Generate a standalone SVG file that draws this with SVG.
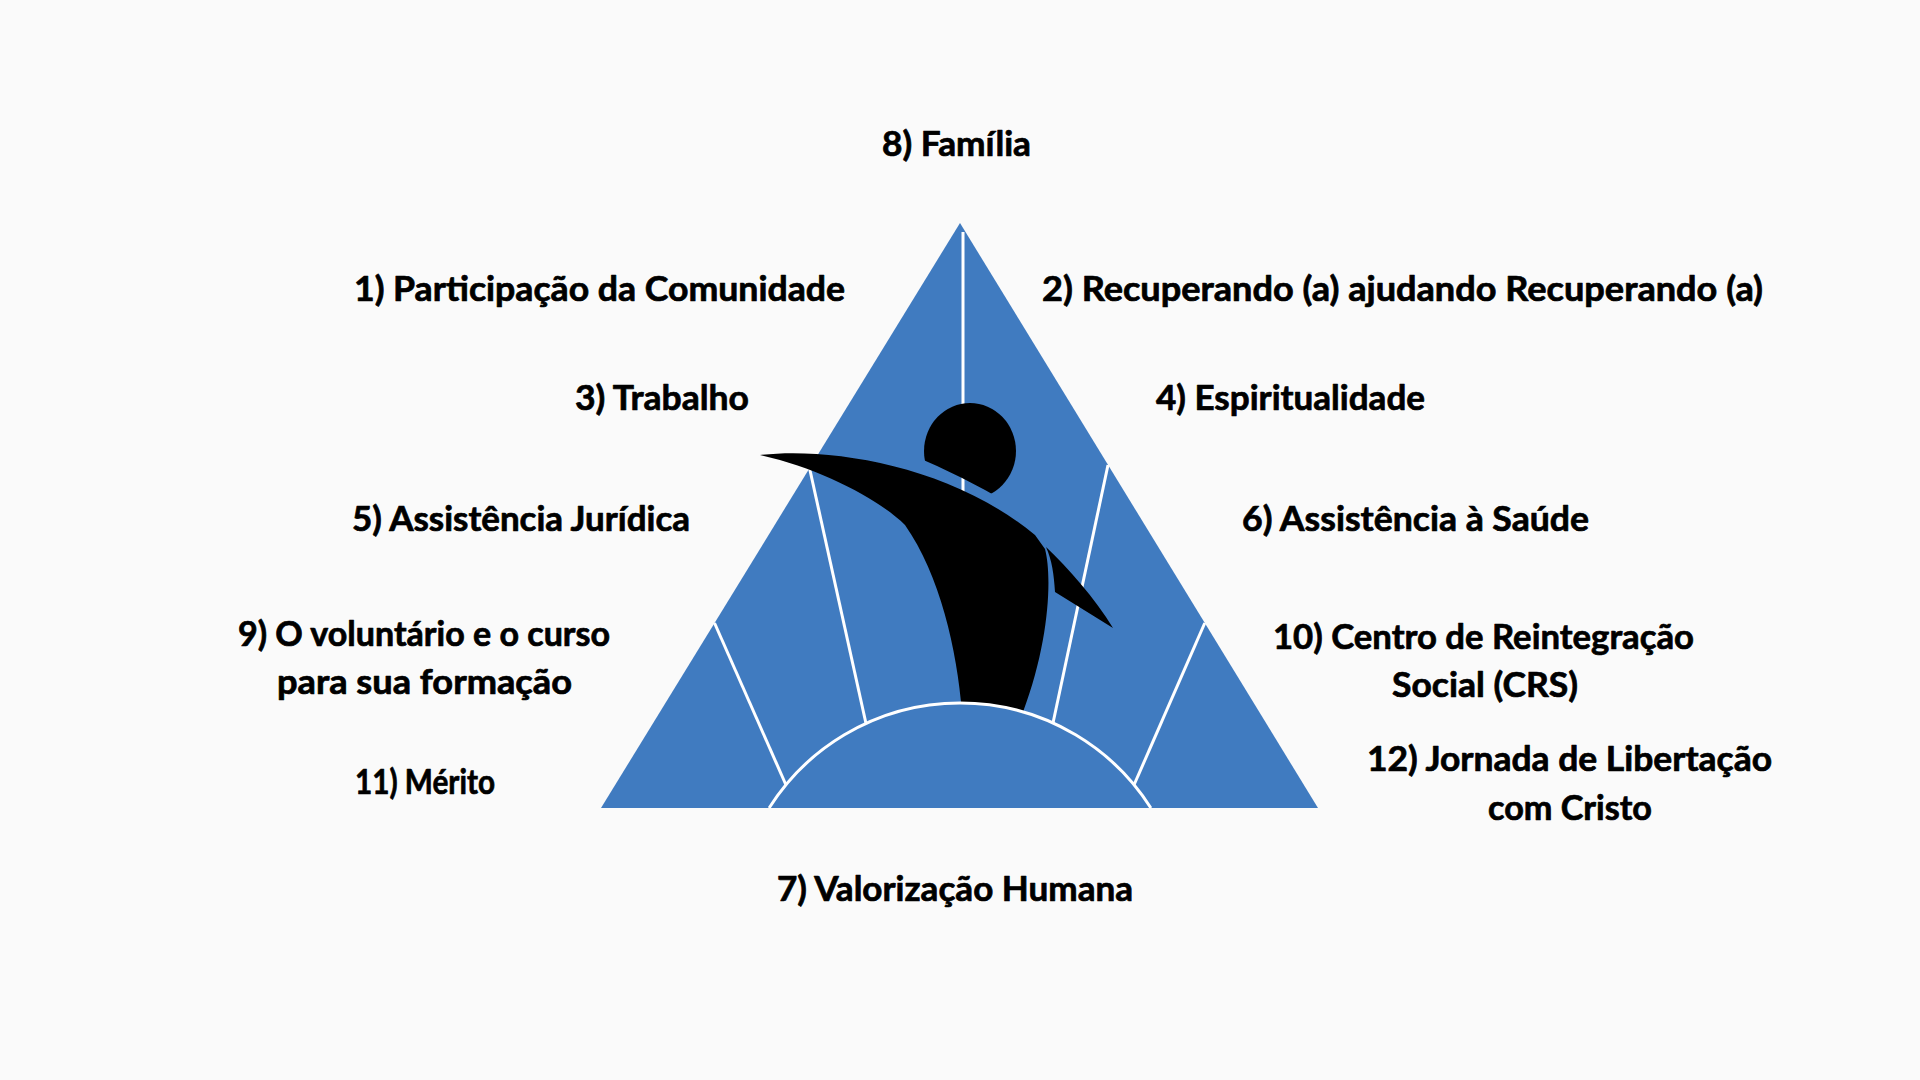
<svg xmlns="http://www.w3.org/2000/svg" width="1920" height="1080" viewBox="0 0 1920 1080">
<defs>
<style>
.lbl{font-family:"Lato","Liberation Sans",sans-serif;font-weight:700;font-size:34px;fill:#000;stroke:#000;stroke-width:0.7px;stroke-linejoin:round;}
.div{stroke:#fff;stroke-width:3;fill:none;stroke-linecap:butt;}
.blue{fill:#407BC0;}
.fig{fill:#000;}
</style>
<clipPath id="headClip">
<path d="M880,380 H1050 V520 L1008,503 Q962,476 912,455 L880,448 Z"/>
</clipPath>
</defs>
<rect width="1920" height="1080" fill="#FAFAFA"/>
<g id="triangle">
<path class="blue" d="M960,223 L1318,808 L601,808 Z"/>
</g>
<g id="dividers">
<line class="div" x1="963" y1="232" x2="963" y2="505"/>
<line class="div" x1="809.5" y1="468" x2="866" y2="723.5"/>
<line class="div" x1="714.5" y1="623" x2="786" y2="785"/>
<line class="div" x1="1108" y1="465" x2="1053" y2="723"/>
<line class="div" x1="1204.8" y1="623" x2="1134" y2="785"/>
</g>
<g id="figure">
<ellipse class="fig" cx="970" cy="451" rx="46" ry="48" clip-path="url(#headClip)"/>
<path class="fig" d="M760,455 C830,447 950,465 1035,535 L1045,549 C1052,575 1050,640 1023,712 L1020,730 L962,730 L962,712 C957,650 940,575 905,525 C880,500 820,468 760,455 Z"/>
<path class="fig" d="M1046,547 C1068,568 1095,598 1113,628 L1055,592 C1054,575 1052,560 1046,547 Z"/>
</g>
<g id="dome">
<path class="blue" d="M769.1,808 A226,226 0 0 1 1150.9,808 Z"/>
<path class="div" d="M769.1,808 A226,226 0 0 1 1150.9,808"/>
</g>
<g id="label-8"><text class="lbl" x="882" y="156" textLength="149" lengthAdjust="spacingAndGlyphs">8) Família</text></g>
<g id="label-1"><text class="lbl" x="354" y="301" textLength="491" lengthAdjust="spacingAndGlyphs">1) Participação da Comunidade</text></g>
<g id="label-2"><text class="lbl" x="1042" y="301" textLength="721" lengthAdjust="spacingAndGlyphs">2) Recuperando (a) ajudando Recuperando (a)</text></g>
<g id="label-3"><text class="lbl" x="575" y="410" textLength="174" lengthAdjust="spacingAndGlyphs">3) Trabalho</text></g>
<g id="label-4"><text class="lbl" x="1156" y="410" textLength="269" lengthAdjust="spacingAndGlyphs">4) Espiritualidade</text></g>
<g id="label-5"><text class="lbl" x="352" y="531" textLength="338" lengthAdjust="spacingAndGlyphs">5) Assistência Jurídica</text></g>
<g id="label-6"><text class="lbl" x="1242" y="531" textLength="347" lengthAdjust="spacingAndGlyphs">6) Assistência à Saúde</text></g>
<g id="label-9">
<text class="lbl" x="238" y="646" textLength="372" lengthAdjust="spacingAndGlyphs">9) O voluntário e o curso</text>
<text class="lbl" x="277" y="694" textLength="295" lengthAdjust="spacingAndGlyphs">para sua formação</text>
</g>
<g id="label-10">
<text class="lbl" x="1273" y="649" textLength="421" lengthAdjust="spacingAndGlyphs">10) Centro de Reintegração</text>
<text class="lbl" x="1392" y="697" textLength="186" lengthAdjust="spacingAndGlyphs">Social (CRS)</text>
</g>
<g id="label-11"><text class="lbl" x="355" y="794" textLength="140" lengthAdjust="spacingAndGlyphs">11) Mérito</text></g>
<g id="label-12">
<text class="lbl" x="1367" y="771" textLength="405" lengthAdjust="spacingAndGlyphs">12) Jornada de Libertação</text>
<text class="lbl" x="1488" y="820" textLength="164" lengthAdjust="spacingAndGlyphs">com Cristo</text>
</g>
<g id="label-7"><text class="lbl" x="777" y="901" textLength="356" lengthAdjust="spacingAndGlyphs">7) Valorização Humana</text></g>
</svg>
